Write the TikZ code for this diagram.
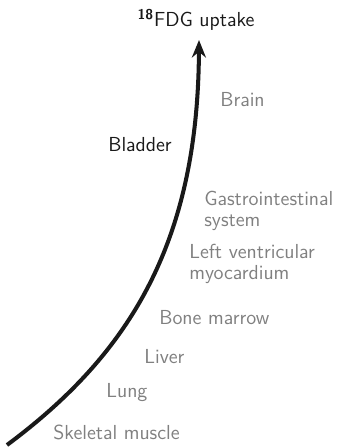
\documentclass[tikz,border=0pt]{standalone}
\usetikzlibrary{arrows.meta}
\begin{document}
\begin{tikzpicture}[x=0.5714pt,y=-0.5714pt,
  font=\sffamily\fontsize{11.6}{12}\selectfont,
  organ/.style={text=black!50, inner sep=0pt, anchor=west, align=left},
  dark/.style={text=black!90, inner sep=0pt},
  curve/.style={line width=2.3pt, draw=black!90, -{Stealth[length=10pt,width=8pt]}}]
\useasboundingbox (0,0) rectangle (340,447);
\node[dark] (title) at (196,20) {\textsuperscript{\textbf{18}}FDG uptake};
\node[organ] (brain) at (220,100) {Brain};
\node[dark, anchor=west] (bladder) at (108,145) {Bladder};
\node[organ] (gi) at (204,211) {Gastrointestinal\\system};
\node[organ] (lv) at (189,264) {Left ventricular\\myocardium};
\node[organ] (bm) at (159,318) {Bone marrow};
\node[organ] (liver) at (144,357) {Liver};
\node[organ] (lung) at (106,393) {Lung};
\node[organ] (sm) at (53,432) {Skeletal muscle};
\coordinate (s) at (7,445);
\coordinate (e) at (199,40);
\draw[curve] (s) .. controls (128,355) and (198,245) .. (e);
\end{tikzpicture}
\end{document}
